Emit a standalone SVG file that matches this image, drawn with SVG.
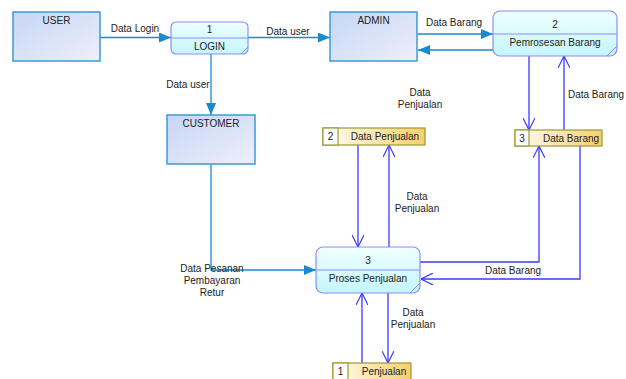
<svg xmlns="http://www.w3.org/2000/svg" width="626" height="379" viewBox="0 0 626 379">
<defs>
<linearGradient id="gEnt" x1="0" y1="0" x2="1" y2="1"><stop offset="0" stop-color="#c6d6f4"/><stop offset="1" stop-color="#eeeffc"/></linearGradient>
<linearGradient id="gProc" x1="0" y1="0" x2="0" y2="1"><stop offset="0" stop-color="#f0ffff"/><stop offset="1" stop-color="#c4f6fc"/></linearGradient>
<linearGradient id="gStore" x1="0" y1="0" x2="1" y2="0"><stop offset="0" stop-color="#fffdf4"/><stop offset="1" stop-color="#f6cf6c"/></linearGradient>
<marker id="aFill" viewBox="0 0 12 10" refX="12" refY="5" markerWidth="12" markerHeight="10" markerUnits="userSpaceOnUse" orient="auto"><path d="M0,0 L12,5 L0,10 Z" fill="#1a8ad0"/></marker>
<marker id="aOpen" viewBox="0 0 12 12" refX="12" refY="6" markerWidth="12" markerHeight="12" markerUnits="userSpaceOnUse" orient="auto"><path d="M0,0 L12,6 L0,12" fill="none" stroke="#3a3aff" stroke-width="1.2"/></marker>
</defs>
<style>
text{font-family:"Liberation Sans",Arial,sans-serif;font-size:10px;fill:#222}
.ent{fill:url(#gEnt);stroke:#3c9ad6;stroke-width:1.5}
.proc{fill:url(#gProc);stroke:#8c8cff;stroke-width:1.2}
.div{stroke:#8c8cff;stroke-width:1}
.store{fill:url(#gStore);stroke:#9a9a30;stroke-width:1.2}
.sn{fill:#fff;stroke:#9a9a30;stroke-width:1.2}
.f1{fill:none;stroke:#1a8ad0;stroke-width:1.3}
.f2{fill:none;stroke:#3a3aff;stroke-width:1.3}
.m{text-anchor:middle}
</style>
<rect width="626" height="379" fill="#fff"/>
<g id="connectors">
<path class="f1" d="M100,37.5 H171" marker-end="url(#aFill)"/>
<path class="f1" d="M248,37.5 H330" marker-end="url(#aFill)"/>
<path class="f1" d="M211,54 V115" marker-end="url(#aFill)"/>
<path class="f1" d="M418,34 H493" marker-end="url(#aFill)"/>
<path class="f1" d="M493,50 H418" marker-end="url(#aFill)"/>
<path class="f1" d="M211,164 V270 H316" marker-end="url(#aFill)"/>
<path class="f2" d="M529,56 V130" marker-end="url(#aOpen)"/>
<path class="f2" d="M564,130 V56" marker-end="url(#aOpen)"/>
<path class="f2" d="M420,262 H539 V146" marker-end="url(#aOpen)"/>
<path class="f2" d="M580,146 V279 H421" marker-end="url(#aOpen)"/>
<path class="f2" d="M358,145 V247" marker-end="url(#aOpen)"/>
<path class="f2" d="M389,247 V145" marker-end="url(#aOpen)"/>
<path class="f2" d="M362,363 V293" marker-end="url(#aOpen)"/>
<path class="f2" d="M388,293 V363" marker-end="url(#aOpen)"/>
<text x="135" y="32" class="m">Data Login</text>
<text x="288" y="35" class="m">Data user</text>
<text x="188" y="88" class="m">Data user</text>
<text x="454" y="26" class="m">Data Barang</text>
<text x="596" y="98" class="m">Data Barang</text>
<text x="420" y="96" class="m">Data</text>
<text x="420" y="108" class="m">Penjualan</text>
<text x="417" y="200" class="m">Data</text>
<text x="417" y="212" class="m">Penjualan</text>
<text x="513" y="274" class="m">Data Barang</text>
<text x="413" y="316" class="m">Data</text>
<text x="413" y="328" class="m">Penjualan</text>
<text x="212" y="272" class="m">Data Pesanan</text>
<text x="212" y="284" class="m">Pembayaran</text>
<text x="212" y="296" class="m">Retur</text>
</g>
<g id="user"><rect class="ent" x="13" y="12" width="87" height="49"/><text x="56.5" y="24" class="m">USER</text></g>
<g id="admin"><rect class="ent" x="330" y="12" width="87" height="49"/><text x="373.5" y="24" class="m">ADMIN</text></g>
<g id="customer"><rect class="ent" x="167" y="115" width="88" height="49"/><text x="211" y="127" class="m">CUSTOMER</text></g>
<g id="p1"><rect class="proc" x="171" y="22" width="77" height="32" rx="5"/><line class="div" x1="171" y1="38" x2="248" y2="38"/><line class="div" x1="241" y1="54" x2="248" y2="47"/><text x="209.5" y="33" class="m">1</text><text x="209.5" y="50" class="m">LOGIN</text></g>
<g id="p2"><rect class="proc" x="493" y="11" width="124" height="45" rx="7"/><line class="div" x1="493" y1="34" x2="617" y2="34"/><line class="div" x1="607" y1="56" x2="617" y2="46"/><text x="555" y="28" class="m">2</text><text x="555" y="46" class="m">Pemrosesan Barang</text></g>
<g id="p3"><rect class="proc" x="316" y="247" width="104" height="46" rx="7"/><line class="div" x1="316" y1="270" x2="420" y2="270"/><line class="div" x1="410" y1="293" x2="420" y2="283"/><text x="368" y="264" class="m">3</text><text x="368" y="282" class="m">Proses Penjualan</text></g>
<g id="s2"><rect class="store" x="323" y="128" width="102" height="17"/><rect class="sn" x="323" y="128" width="15" height="17"/><text x="330.5" y="140" class="m">2</text><text x="385" y="140" class="m">Data Penjualan</text></g>
<g id="s3"><rect class="store" x="515" y="130" width="87" height="16"/><rect class="sn" x="515" y="130" width="14" height="16"/><text x="522" y="142" class="m">3</text><text x="571" y="142" class="m">Data Barang</text></g>
<g id="s1"><rect class="store" x="333" y="363" width="78" height="20"/><rect class="sn" x="333" y="363" width="15" height="20"/><text x="340.5" y="375" class="m">1</text><text x="384" y="375" class="m">Penjualan</text></g>
</svg>
